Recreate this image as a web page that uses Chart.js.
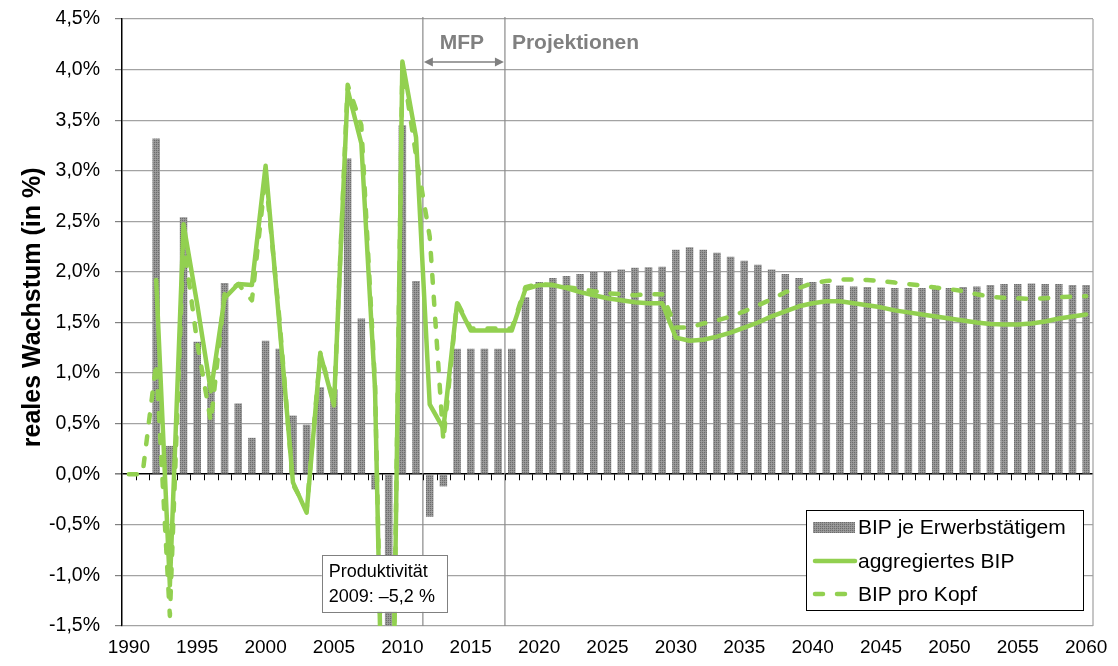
<!DOCTYPE html>
<html><head><meta charset="utf-8">
<script src="https://cdn.jsdelivr.net/npm/chart.js@4.4.1/dist/chart.umd.min.js"></script>
<style>html,body{margin:0;padding:0;background:#fff;}#wrap{width:1118px;height:666px;position:relative;}</style>
</head><body><div id="wrap"><canvas id="c" width="1118" height="666"></canvas></div>
<script>
const years = [1990,1991,1992,1993,1994,1995,1996,1997,1998,1999,2000,2001,2002,2003,2004,2005,2006,2007,2008,2009,2010,2011,2012,2013,2014,2015,2016,2017,2018,2019,2020,2021,2022,2023,2024,2025,2026,2027,2028,2029,2030,2031,2032,2033,2034,2035,2036,2037,2038,2039,2040,2041,2042,2043,2044,2045,2046,2047,2048,2049,2050,2051,2052,2053,2054,2055,2056,2057,2058,2059,2060];
const yTickValues = [-1.5,-1.0,-0.5,0,0.5,1.0,1.5,2.0,2.5,3.0,3.5,4.0,4.5];
const productivity = [null,null,3.32,0.28,2.54,1.31,0.90,1.89,0.70,0.36,1.32,1.24,0.58,0.49,0.86,0.84,3.12,1.54,-0.15,-5.2,3.45,1.91,-0.42,-0.12,1.24,1.24,1.24,1.24,1.24,1.75,1.90,1.94,1.96,1.98,2.00,2.01,2.025,2.04,2.045,2.05,2.22,2.245,2.22,2.19,2.15,2.11,2.07,2.025,1.98,1.94,1.90,1.88,1.865,1.855,1.85,1.845,1.84,1.84,1.84,1.84,1.84,1.85,1.855,1.87,1.88,1.88,1.885,1.88,1.88,1.87,1.87];
const gdpAggregate = [null,null,1.92,-1.1,2.47,1.68,0.82,1.74,1.88,1.87,3.05,1.5,-0.08,-0.38,1.19,0.68,3.8,3.27,0.85,-5.6,4.08,3.33,0.69,0.45,1.69,1.42,1.42,1.42,1.42,1.83,1.87,1.87,1.84,1.80,1.77,1.74,1.72,1.70,1.69,1.69,1.35,1.32,1.33,1.36,1.40,1.45,1.50,1.56,1.61,1.66,1.69,1.71,1.71,1.69,1.67,1.65,1.62,1.60,1.58,1.56,1.54,1.52,1.50,1.485,1.48,1.48,1.49,1.51,1.54,1.56,1.58];
const gdpPerCapita = [0,0,1.1,-1.4,2.3,1.3,0.52,1.78,1.88,1.72,2.95,1.55,-0.1,-0.35,1.2,0.7,3.85,3.45,0.9,-5.4,4.05,3.15,2.35,0.33,1.7,1.44,1.44,1.44,1.44,1.85,1.88,1.87,1.85,1.83,1.81,1.79,1.78,1.77,1.78,1.78,1.45,1.45,1.49,1.52,1.56,1.61,1.67,1.73,1.80,1.84,1.89,1.91,1.925,1.925,1.92,1.91,1.895,1.88,1.865,1.845,1.83,1.81,1.78,1.755,1.745,1.74,1.73,1.74,1.75,1.755,1.76];
const seriesNames = ['BIP je Erwerbstätigem','aggregiertes BIP','BIP pro Kopf'];
const axisTitle = 'reales Wachstum (in %)';
const phaseLabels = ['MFP','Projektionen'];
const phaseEndYears = [2011, 2017];
const noteLines = ['Produktivität','2009: –5,2 %'];
const noteBox = {fromYear: 2004, toYear: 2013, top: -0.8, bottom: -1.36};
const titleCenterValue = 1.65;

const GREEN = '#92D050';
const GREY_TXT = '#808080';
const FONT = "'Liberation Sans', Arial, sans-serif";

const canvas = document.getElementById('c');
const mainCtx = canvas.getContext('2d');
function makePattern(){
  const p = document.createElement('canvas'); p.width = 4; p.height = 4;
  const g = p.getContext('2d');
  g.fillStyle = '#959595'; g.fillRect(0,0,4,4);
  g.fillStyle = '#6c6c6c';
  g.fillRect(0,0,1,1); g.fillRect(2,0,1,1); g.fillRect(0,2,1,1); g.fillRect(2,2,1,1);
  g.fillStyle = '#a2a2a2';
  g.fillRect(1,1,1,1); g.fillRect(3,3,1,1);
  return mainCtx.createPattern(p, 'repeat');
}
const barPattern = makePattern();

const decoPlugin = {
  id: 'deco',
  beforeDatasetsDraw(chart){
    const {ctx, chartArea: a, scales: {x, y}} = chart;
    const half = (x.getPixelForValue(1) - x.getPixelForValue(0)) / 2;
    ctx.save();
    ctx.strokeStyle = '#a0a0a0'; ctx.lineWidth = 1.2;
    ctx.beginPath(); ctx.moveTo(a.right, a.top); ctx.lineTo(a.right, a.bottom); ctx.stroke();
    ctx.strokeStyle = '#8a8a8a'; ctx.lineWidth = 1.2;
    phaseEndYears.forEach(yr => {
      const px = x.getPixelForValue(years.indexOf(yr)) + half;
      ctx.beginPath(); ctx.moveTo(px, a.top - 2); ctx.lineTo(px, a.bottom); ctx.stroke();
    });
    const y0 = y.getPixelForValue(0);
    ctx.strokeStyle = '#000'; ctx.lineWidth = 1;
    ctx.beginPath();
    for (let i = 1; i < years.length; i++) {
      const px = Math.round(x.getPixelForValue(i) - half) + 0.5;
      ctx.moveTo(px, y0); ctx.lineTo(px, y0 + 6);
    }
    ctx.stroke();
    ctx.save();
    ctx.translate(a.left - 89, y.getPixelForValue(titleCenterValue));
    ctx.rotate(-Math.PI / 2);
    ctx.fillStyle = '#000'; ctx.font = 'bold 25px ' + FONT;
    ctx.textAlign = 'center'; ctx.textBaseline = 'middle';
    ctx.fillText(axisTitle, 0, 0);
    ctx.restore();
    ctx.restore();
  },
  afterDatasetsDraw(chart){
    const {ctx, chartArea: a, scales: {x, y}} = chart;
    ctx.save();
    const l = x.getPixelForValue(years.indexOf(noteBox.fromYear)) + 1.5;
    const r = x.getPixelForValue(years.indexOf(noteBox.toYear)) + 3.5;
    const t = y.getPixelForValue(noteBox.top);
    const b = y.getPixelForValue(noteBox.bottom);
    ctx.fillStyle = '#fff'; ctx.fillRect(l, t, r - l, b - t);
    ctx.strokeStyle = '#808080'; ctx.lineWidth = 1;
    ctx.strokeRect(Math.round(l)+0.5, Math.round(t)+0.5, Math.round(r-l), Math.round(b-t));
    ctx.fillStyle = '#000'; ctx.font = '18px ' + FONT; ctx.textBaseline = 'middle'; ctx.textAlign = 'left';
    ctx.fillText(noteLines[0], l + 7, t + 17);
    ctx.fillText(noteLines[1], l + 7, t + 42);

    const half = (x.getPixelForValue(1) - x.getPixelForValue(0)) / 2;
    const x1 = x.getPixelForValue(years.indexOf(phaseEndYears[0])) + half;
    const x2 = x.getPixelForValue(years.indexOf(phaseEndYears[1])) + half;
    ctx.fillStyle = GREY_TXT; ctx.font = 'bold 21px ' + FONT;
    ctx.textAlign = 'center';
    ctx.fillText(phaseLabels[0], (x1 + x2) / 2 - 2, a.top + 24);
    ctx.textAlign = 'left';
    ctx.fillText(phaseLabels[1], x2 + 7, a.top + 24);
    const ay = a.top + 43;
    ctx.strokeStyle = GREY_TXT; ctx.lineWidth = 1.5;
    ctx.beginPath(); ctx.moveTo(x1 + 6, ay); ctx.lineTo(x2 - 6, ay); ctx.stroke();
    ctx.beginPath();
    ctx.moveTo(x1 + 1, ay); ctx.lineTo(x1 + 10, ay - 4.5); ctx.lineTo(x1 + 10, ay + 4.5); ctx.closePath();
    ctx.moveTo(x2 - 1, ay); ctx.lineTo(x2 - 10, ay - 4.5); ctx.lineTo(x2 - 10, ay + 4.5); ctx.closePath();
    ctx.fill();

    const lw = 277, lh = 100;
    const lx = a.right - 10 - lw, ly = a.bottom - 16 - lh;
    ctx.fillStyle = '#fff'; ctx.fillRect(lx, ly, lw, lh);
    ctx.strokeStyle = '#000'; ctx.lineWidth = 1;
    ctx.strokeRect(Math.round(lx)+0.5, Math.round(ly)+0.5, lw, lh);
    ctx.font = '21px ' + FONT; ctx.textBaseline = 'middle'; ctx.textAlign = 'left';
    const rows = [ly + 17, ly + 51, ly + 84];
    ctx.fillStyle = barPattern; ctx.fillRect(lx + 7, rows[0] - 5, 42, 11);
    ctx.strokeStyle = GREEN; ctx.lineWidth = 4.5; ctx.lineCap = 'round';
    ctx.beginPath(); ctx.moveTo(lx + 9, rows[1]); ctx.lineTo(lx + 49, rows[1]); ctx.stroke();
    ctx.setLineDash([8, 14]);
    ctx.beginPath(); ctx.moveTo(lx + 9, rows[2]); ctx.lineTo(lx + 51, rows[2]); ctx.stroke();
    ctx.setLineDash([]);
    ctx.fillStyle = '#000';
    seriesNames.forEach((n, i) => ctx.fillText(n, lx + 52, rows[i] + 1));
    ctx.restore();
  }
};

new Chart(canvas, {
  type: 'bar',
  data: {
    labels: years.map(String),
    datasets: [
      {type: 'line', label: seriesNames[2], data: gdpPerCapita, borderColor: GREEN, borderWidth: 4.5,
       borderDash: [8, 14], borderCapStyle: 'round', borderJoinStyle: 'round', pointRadius: 0, tension: 0, order: 1},
      {type: 'line', label: seriesNames[1], data: gdpAggregate, borderColor: GREEN, borderWidth: 4.5,
       borderCapStyle: 'round', borderJoinStyle: 'round', pointRadius: 0, tension: 0, order: 2},
      {type: 'bar', label: seriesNames[0], data: productivity, backgroundColor: barPattern, borderWidth: 0,
       barPercentage: 0.55, categoryPercentage: 1.0, order: 3}
    ]
  },
  options: {
    responsive: false, animation: false, devicePixelRatio: 1,
    layout: {padding: {left: 0, top: 19, right: 25, bottom: 0}},
    plugins: {legend: {display: false}, tooltip: {enabled: false}},
    scales: {
      x: {
        offset: true,
        grid: {display: false, drawTicks: false},
        border: {display: false},
        ticks: {
          autoSkip: false, maxRotation: 0, minRotation: 0, padding: 10, color: '#000',
          font: {family: FONT, size: 19},
          callback: function(v, i){ const yr = years[i]; return yr % 5 === 0 ? String(yr) : ''; }
        },
        afterFit(s){ s.height = 40; s.paddingLeft = 0; s.paddingRight = 0; }
      },
      y: {
        min: -1.5, max: 4.5,
        afterBuildTicks(s){ s.ticks = yTickValues.map(v => ({value: v})); },
        grid: {
          color: c => (c.tick && c.tick.value === 0) ? '#000' : '#a3a3a3',
          lineWidth: c => (c.tick && c.tick.value === 0) ? 1.6 : 1.2,
          tickColor: '#808080', tickLength: 7, drawTicks: true
        },
        border: {display: true, color: '#000', width: 1.5},
        ticks: {
          padding: 15, color: '#000', font: {family: FONT, size: 19.5},
          callback: v => v.toFixed(1).replace('.', ',') + '%'
        },
        title: {display: false},
        afterFit(s){ s.width = 122; s.paddingTop = 0; s.paddingBottom = 0; }
      }
    }
  },
  plugins: [decoPlugin]
});
</script></body></html>
